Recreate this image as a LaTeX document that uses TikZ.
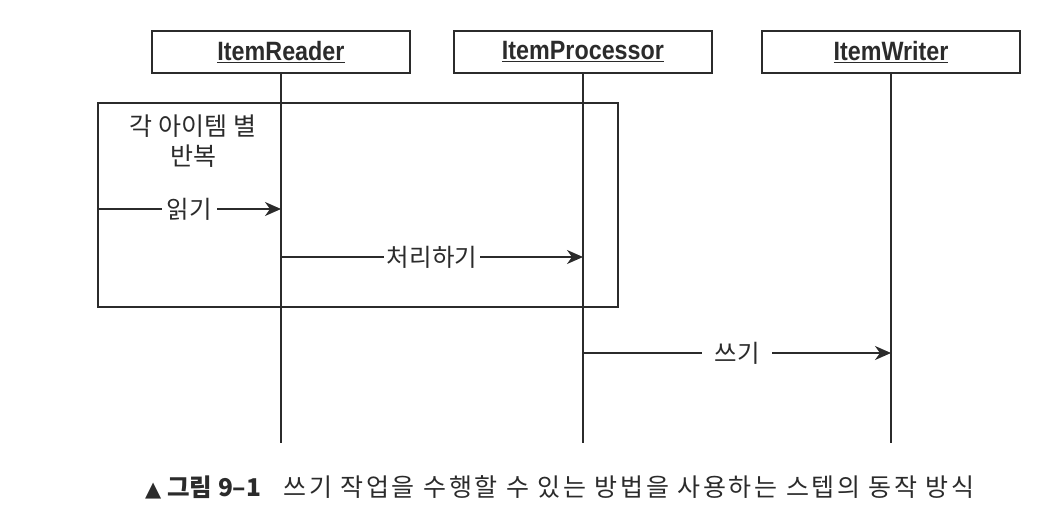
\documentclass[tikz,border=0pt]{standalone}
\usepackage{fontspec}
\setmainfont{Liberation Sans}
\newfontfamily\hdrfont[FakeStretch=0.88]{Liberation Sans}
\newfontfamily\kr{Noto Sans CJK KR}
\newfontfamily\krcap[LetterSpace=11]{Noto Sans CJK KR}
\newfontfamily\symfont{DejaVu Sans}
\usetikzlibrary{arrows.meta,positioning}
\definecolor{ink}{HTML}{2B2B2B}
\tikzset{
  x=1pt,y=-1pt,
  actor/.style={draw=ink,line width=1.9pt,minimum width=258pt,minimum height=42pt,inner sep=0pt,
    font=\hdrfont\bfseries\fontsize{26.5}{30}\selectfont,text=ink},
  lifeline/.style={draw=ink,line width=1.7pt},
  loopbox/.style={draw=ink,line width=2.5pt,minimum width=520pt,minimum height=204pt,inner sep=0pt},
  msg/.style={draw=ink,line width=1.7pt,-{Stealth[length=16pt,width=14pt,inset=5pt]}},
  msglabel/.style={fill=white,text=ink,inner xsep=5pt,inner ysep=2pt,font=\kr\fontsize{24.5}{28}\selectfont},
  looplabel/.style={text=ink,align=center,inner sep=0pt,font=\kr\fontsize{25}{30}\selectfont},
  caption/.style={text=ink,inner sep=0pt,anchor=west,font=\krcap\fontsize{25}{28}\selectfont}
}
\begin{document}
\begin{tikzpicture}
\useasboundingbox (0,0) rectangle (1060,532);
% actors
\node[actor] (reader) at (281,52) {\underline{ItemReader}};
\node[actor] (proc) at (583,52) {\underline{ItemProcessor}};
\node[actor] (writer) at (891,52) {\underline{ItemWriter}};
% lifeline ends
\coordinate (readerEnd) at (281,443);
\coordinate (procEnd) at (583,443);
\coordinate (writerEnd) at (891,443);
\draw[lifeline] (reader.south) -- (readerEnd);
\draw[lifeline] (proc.south) -- (procEnd);
\draw[lifeline] (writer.south) -- (writerEnd);
% loop box
\node[loopbox] (loop) at (358,205) {};
\node[looplabel] (looptext) at (193,141) {각 아이템 별\\반복};
% message points
\coordinate (readStart) at (98,209);
\coordinate (readEnd) at (281,209);
\coordinate (procStart) at (281,257);
\coordinate (procArr) at (583,257);
\coordinate (writeStart) at (583,353);
\coordinate (writeArr) at (891,353);
\draw[msg] (readStart) -- node[msglabel] (readlbl) {읽기} (readEnd);
\draw[msg] (procStart) -- node[msglabel,inner xsep=3pt] (proclbl) {처리하기} (procArr);
\draw[msg] (writeStart) -- node[msglabel,inner xsep=12pt] (writelbl) {쓰기} (writeArr);
% caption
\node[caption] (cap) at (145,487) {{\symfont\fontsize{21}{24}\selectfont ▲}\hspace{6pt}{\kr\fontsize{24.5}{28}\selectfont\bfseries 그림 9–1}\hspace{22pt}쓰기 작업을 수행할 수 있는 방법을 사용하는 스텝의 동작 방식};
\end{tikzpicture}
\end{document}
